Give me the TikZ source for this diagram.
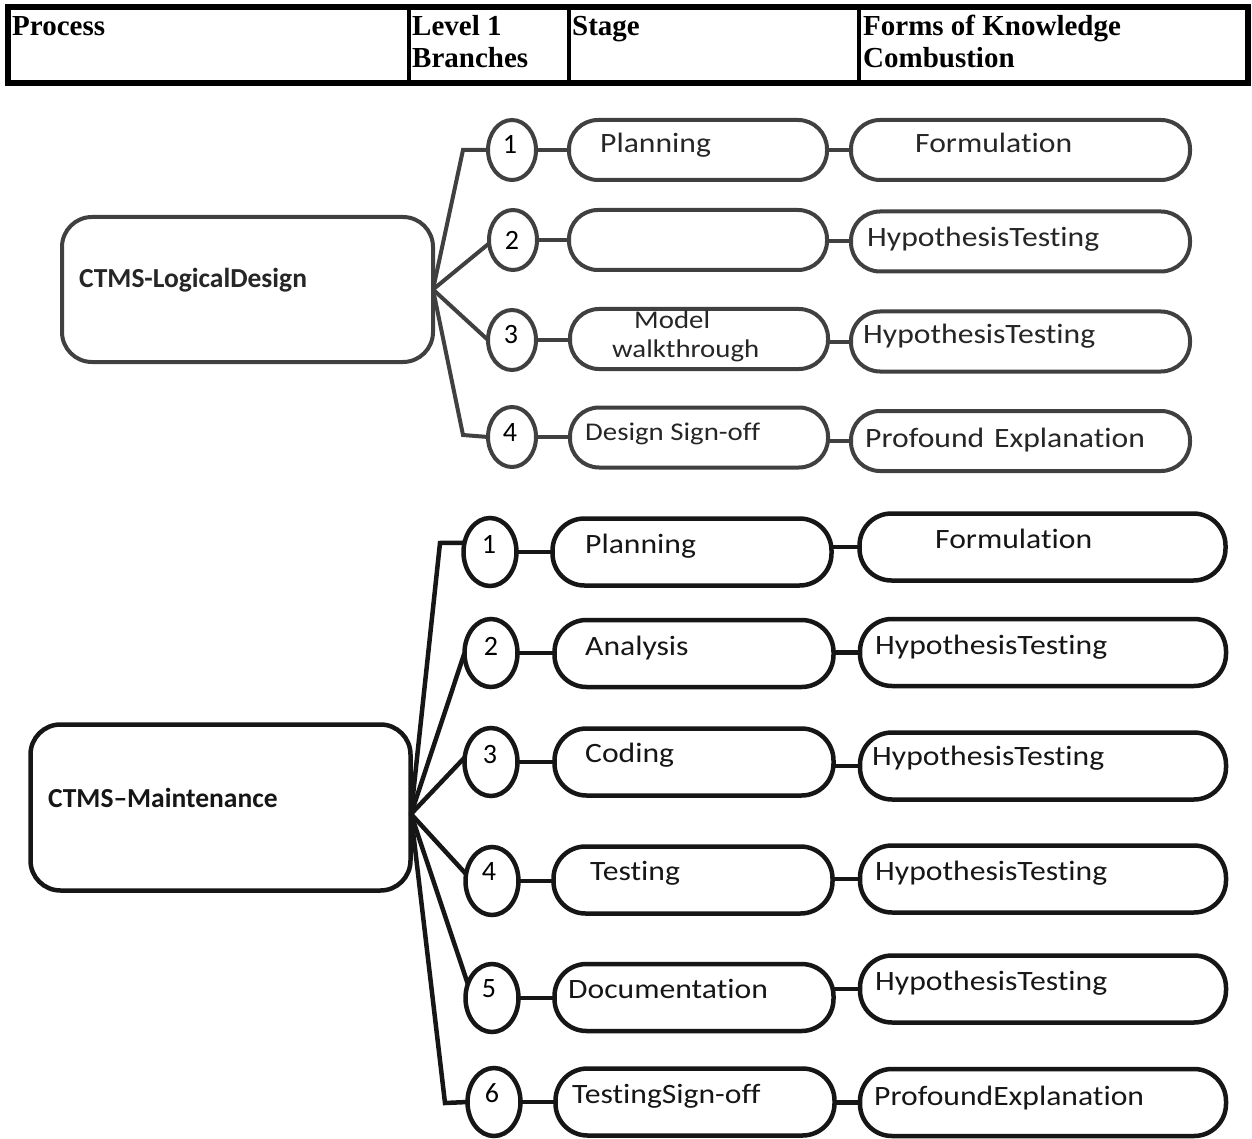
\documentclass[tikz,border=0pt]{standalone}
\usepackage{fontspec}
\setmainfont{Carlito}[Ligatures=NoCommon, RawFeature=-liga, RawFeature=-clig]
\newfontfamily\bodyfont[FakeStretch=1.13, Ligatures=NoCommon, RawFeature=-liga, RawFeature=-clig]{Carlito}
\newfontfamily\headfont{Liberation Serif}
\usetikzlibrary{shapes.geometric}
\definecolor{topgray}{HTML}{404040}
\definecolor{botblack}{HTML}{161616}
\begin{document}
\begin{tikzpicture}[x=1pt,y=-1pt,
  txt/.style={inner sep=0pt, anchor=base west, font=\bodyfont\fontsize{28}{30}\selectfont},
  smalltxt/.style={inner sep=0pt, anchor=base west, font=\bodyfont\fontsize{25.5}{28}\selectfont},
  boldtxt/.style={inner sep=0pt, anchor=base west, font=\bfseries\fontsize{27.5}{30}\selectfont},
  headtxt/.style={inner sep=0pt, anchor=base west, font=\headfont\bfseries\fontsize{29}{32}\selectfont},
  numtxt/.style={inner sep=0pt, anchor=base, font=\fontsize{28}{30}\selectfont},
  topnum/.style={ellipse, draw=topgray, line width=4pt, minimum width=48pt, minimum height=60pt, inner sep=0pt, outer sep=0pt},
  botnum/.style={ellipse, draw=botblack, line width=4.5pt, minimum width=53pt, minimum height=68pt, inner sep=0pt, outer sep=0pt},
  topstage/.style={rectangle, draw=topgray, line width=4pt, rounded corners=29pt, minimum width=258pt, minimum height=60pt, inner sep=0pt, outer sep=0pt},
  topform/.style={rectangle, draw=topgray, line width=4pt, rounded corners=29pt, minimum width=339pt, minimum height=60pt, inner sep=0pt, outer sep=0pt},
  botstage/.style={rectangle, draw=botblack, line width=4.5pt, rounded corners=32pt, minimum width=279pt, minimum height=67pt, inner sep=0pt, outer sep=0pt},
  botform/.style={rectangle, draw=botblack, line width=4.5pt, rounded corners=32pt, minimum width=366pt, minimum height=67pt, inner sep=0pt, outer sep=0pt},
  topline/.style={draw=topgray, line width=4pt},
  botline/.style={draw=botblack, line width=4.5pt},
]
\useasboundingbox (0,0) rectangle (1252,1139);
\fill[white] (0,0) rectangle (1252,1139);

% ---------------- header ----------------
\node[rectangle, draw=black, line width=6pt, minimum width=1240pt, minimum height=76pt, inner sep=0pt, outer sep=0pt] (hdr) at (627.5,45) {};
\coordinate (d1t) at (409,8); \coordinate (d1b) at (409,82);
\coordinate (d2t) at (569,8); \coordinate (d2b) at (569,82);
\coordinate (d3t) at (859,8); \coordinate (d3b) at (859,82);
\draw[black, line width=4.5pt] (d1t) -- (d1b);
\draw[black, line width=4.5pt] (d2t) -- (d2b);
\draw[black, line width=4.5pt] (d3t) -- (d3b);
\node[headtxt] (h1) at (12,36) {Process};
\node[headtxt] (h2) at (412,36) {Level 1};
\node[headtxt] (h2b) at (412,68) {Branches};
\node[headtxt] (h3) at (572,36) {Stage};
\node[headtxt] (h4) at (863,36) {Forms of Knowledge};
\node[headtxt] (h4b) at (863,68) {Combustion};

% ---------------- top section ----------------
\node[rectangle, draw=topgray, line width=4pt, rounded corners=30pt, minimum width=371pt, minimum height=145pt, inner sep=0pt, outer sep=0pt] (T) at (247.5,289.5) {};
\node[boldtxt, text=black!85] (Tl) at (79,288) {CTMS-LogicalDesign};

\node[topnum] (tc1) at (512,150) {};
\node[topnum] (tc2) at (513,240) {};
\node[topnum] (tc3) at (512,340) {};
\node[topnum] (tc4) at (512,437) {};
\node[numtxt] (tn1) at (510,154) {1};
\node[numtxt] (tn2) at (512,250) {2};
\node[numtxt] (tn3) at (511,344) {3};
\node[numtxt] (tn4) at (510,441) {4};

\node[topstage] (ts1) at (698,150) {};
\node[topstage] (ts2) at (698,240) {};
\node[topstage] (ts3) at (699,339) {};
\node[topstage] (ts4) at (699,437.5) {};

\node[topform] (tf1) at (1020.5,150) {};
\node[topform] (tf2) at (1020.5,241.5) {};
\node[topform] (tf3) at (1020.5,341.5) {};
\node[topform] (tf4) at (1020.5,441) {};

\node[txt, text=black!85] (tst1) at (600,153) {Planning};
\node[smalltxt, text=black!85] (tst3a) at (634,328) {Model};
\node[smalltxt, text=black!85] (tst3b) at (612,357) {walkthrough};
\node[smalltxt, text=black!85] (tst4) at (585,440) {Design Sign-off};

\node[txt, text=black!85] (tft1) at (915,153) {Formulation};
\node[txt, text=black!85] (tft2) at (867,247) {HypothesisTesting};
\node[txt, text=black!85] (tft3) at (863,343) {HypothesisTesting};
\node[txt, text=black!85] (tft4) at (865,447) {Profound\hspace{0.1em} Explanation};

\coordinate (tk1) at (463,150);
\coordinate (tk4) at (463,435);
\draw[topline] (T.east) -- (tk1) -- (tc1.west);
\draw[topline] (T.east) -- (tc2.188);
\draw[topline] (T.east) -- (tc3.west);
\draw[topline] (T.east) -- (tk4) -- (tc4.west);

\foreach \i in {1,2,3,4} {
  \draw[topline] (tc\i.east) -- (tc\i.east -| ts\i.west);
  \draw[topline] (tf\i.west -| ts\i.east) -- (tf\i.west);
}

% ---------------- bottom section ----------------
\node[rectangle, draw=botblack, line width=4.5pt, rounded corners=30pt, minimum width=380pt, minimum height=166pt, inner sep=0pt, outer sep=0pt] (M) at (220.5,807.5) {};
\node[boldtxt, text=botblack] (Ml) at (48,807) {CTMS–Maintenance};

\node[botnum] (bc1) at (490,552) {};
\node[botnum] (bc2) at (491,653) {};
\node[botnum] (bc3) at (491,762) {};
\node[botnum] (bc4) at (492,881) {};
\node[botnum] (bc5) at (492,998) {};
\node[botnum] (bc6) at (494,1102) {};
\node[numtxt] (bn1) at (489,553) {1};
\node[numtxt] (bn2) at (491,655) {2};
\node[numtxt] (bn3) at (490,763) {3};
\node[numtxt] (bn4) at (489,880) {4};
\node[numtxt] (bn5) at (489,997) {5};
\node[numtxt] (bn6) at (492,1102) {6};

\node[botstage] (bs1) at (692,552) {};
\node[botstage] (bs2) at (694,653.5) {};
\node[botstage] (bs3) at (694,762) {};
\node[botstage] (bs4) at (693,880) {};
\node[botstage] (bs5) at (694,997.5) {};
\node[botstage] (bs6) at (695,1102) {};

\node[botform] (bf1) at (1042.5,547) {};
\node[botform] (bf2) at (1043,652.5) {};
\node[botform] (bf3) at (1043,766) {};
\node[botform] (bf4) at (1043,879) {};
\node[botform] (bf5) at (1043,989) {};
\node[botform] (bf6) at (1043,1102.5) {};

\node[txt, text=botblack] (bst1) at (585,553) {Planning};
\node[txt, text=botblack] (bst2) at (585,655) {Analysis};
\node[txt, text=botblack] (bst3) at (585,762) {Coding};
\node[txt, text=botblack] (bst4) at (590,880) {Testing};
\node[txt, text=botblack] (bst5) at (568,998) {Documentation};
\node[txt, text=botblack] (bst6) at (572,1103) {TestingSign-off};

\node[txt, text=botblack] (bft1) at (935,548) {Formulation};
\node[txt, text=botblack] (bft2) at (875,654) {HypothesisTesting};
\node[txt, text=botblack] (bft3) at (872,765) {HypothesisTesting};
\node[txt, text=botblack] (bft4) at (875,880) {HypothesisTesting};
\node[txt, text=botblack] (bft5) at (875,990) {HypothesisTesting};
\node[txt, text=botblack] (bft6) at (874,1105) {ProfoundExplanation};

\coordinate (jm) at (411,814);
\coordinate (bk1) at (440,543);
\coordinate (bk6) at (445,1103);
\draw[botline] (jm) -- (bk1) -- (bc1.160);
\draw[botline] (jm) -- (bc2.west);
\draw[botline] (jm) -- (bc3.170);
\draw[botline] (jm) -- (bc4.165);
\draw[botline] (jm) -- (bc5.150);
\draw[botline] (jm) -- (bk6) -- (bc6.west);

\foreach \i in {1,...,6} {
  \draw[botline] (bc\i.east) -- (bc\i.east -| bs\i.west);
  \draw[botline] (bf\i.west -| bs\i.east) -- (bf\i.west);
}
\end{tikzpicture}
\end{document}
